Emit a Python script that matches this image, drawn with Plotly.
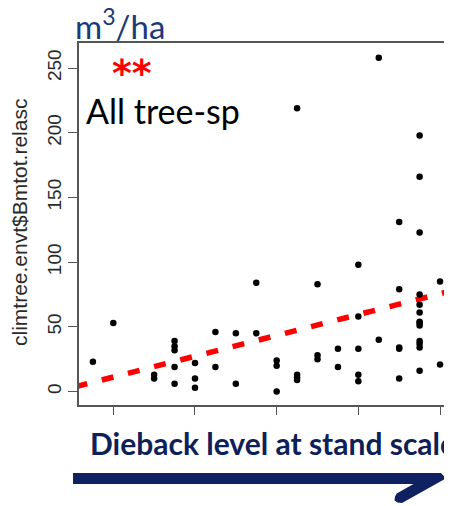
import plotly.graph_objects as go

# ---- data ----
dieback_x = ([0.15] + [0.20] + [0.30]*2 + [0.35]*5 + [0.40]*3 + [0.45]*2 + [0.50]*2 +
             [0.55]*2 + [0.60]*3 + [0.65]*4 + [0.70]*3 + [0.75]*2 + [0.80]*5 +
             [0.85]*2 + [0.90]*5 + [0.95]*13 + [1.00]*2)
volume_y = ([23] + [53] + [13, 10] + [39, 35, 32, 19, 6] + [22, 10, 3] + [46, 19] + [45, 6] +
            [84, 45] + [24, 20, 0] + [219, 13, 11, 9] + [83, 28, 25] + [33, 19] +
            [98, 58, 33, 13, 8] + [258, 40] + [131, 79, 34, 33, 10] +
            [198, 166, 123, 75, 67, 61, 54, 53, 51, 39, 37, 34, 16] + [85, 21])
trend_intercept = -4.9
trend_slope = 80.5
y_ticks = [0, 50, 100, 150, 200, 250]
x_ticks = [0.2, 0.4, 0.6, 0.8, 1.0]
y_title = "climtree.envt$Bmtot.relasc"
unit_label = "m<sup>3</sup>/ha"
signif_label = "**"
group_label = "All tree-sp"
x_label = "Dieback level at stand scale"

# ---- layout geometry (page has an 8px body margin, so the figure is shifted) ----
OFF = 8
W, H = 452 - OFF, 506 - OFF
L, R, T, B = 79 - OFF, 0, 43 - OFF, 101
PW, PH = W - L - R, H - T - B
X_RANGE = [0.116, 1.0293]
Y_RANGE = [-10.4, 269.4]

def px(x):
    return (x - OFF - L) / PW

def py(y):
    return (H - B - (y - OFF)) / PH

fig = go.Figure()

trend_x = [0.1077, 1.04]
trend_y = [trend_intercept + trend_slope * v for v in trend_x]
fig.add_trace(go.Scatter(x=trend_x, y=trend_y, mode="lines",
                         line=dict(color="#ff0000", width=5.5, dash="12px,15px"),
                         hoverinfo="skip", showlegend=False))
fig.add_trace(go.Scatter(x=dieback_x, y=volume_y, mode="markers",
                         marker=dict(color="black", size=6.5, line=dict(width=0)),
                         showlegend=False, cliponaxis=False))

axis_col = "#555555"
fig.update_xaxes(range=X_RANGE, tickvals=x_ticks, showticklabels=False, automargin=False,
                 ticks="outside", ticklen=8, tickwidth=1.3, tickcolor=axis_col,
                 showline=True, linecolor=axis_col, linewidth=1.5, mirror=True,
                 showgrid=False, zeroline=False)
fig.update_yaxes(range=Y_RANGE, tickvals=y_ticks, tickangle=-90, automargin=False,
                 ticks="outside", ticklen=9, tickwidth=1.3, tickcolor=axis_col,
                 showline=True, linecolor=axis_col, linewidth=1.5, mirror=False,
                 tickfont=dict(family="Liberation Sans, Arial", size=19, color="#2a2a2a"),
                 showgrid=False, zeroline=False)

annotations = [
    dict(text=y_title, x=px(20), y=py(223), textangle=-90, showarrow=False,
         xanchor="center", yanchor="middle",
         font=dict(family="Liberation Sans, Arial", size=21, color="#2a2a2a")),
    dict(text=unit_label, x=px(73), y=py(23.5), showarrow=False, xanchor="left", yanchor="middle",
         font=dict(family="Lato", size=33, color="#1a3a78")),
    dict(text=signif_label, x=px(132), y=py(73), showarrow=False, xanchor="center", yanchor="middle",
         font=dict(family="DejaVu Sans", size=38, color="#ff0000", weight="bold")),
    dict(text=group_label, x=px(84), y=py(111), showarrow=False, xanchor="left", yanchor="middle",
         font=dict(family="Lato", size=34, color="black")),
    dict(text=x_label, x=px(88), y=py(443), showarrow=False, xanchor="left", yanchor="middle",
         font=dict(family="Lato", size=30, color="#0d2158", weight="bold")),
]
for a in annotations:
    a.update(xref="paper", yref="paper")

arrow_pts = [(73, 473), (441, 473), (446, 478.5), (402, 503), (397.5, 502.5), (394.5, 500.5),
             (395, 496.5), (396.7, 493.4), (413.5, 484), (73, 484)]
path = "M " + " L ".join(f"{px(a):.5f},{py(b):.5f}" for a, b in arrow_pts) + " Z"
fig.add_shape(type="path", path=path, xref="paper", yref="paper",
              fillcolor="#0f2160", line=dict(width=0))

fig.update_layout(width=W, height=H, margin=dict(l=L, r=R, t=T, b=B, pad=0),
                  paper_bgcolor="white", plot_bgcolor="white",
                  annotations=annotations)
fig.write_html("out.html")
